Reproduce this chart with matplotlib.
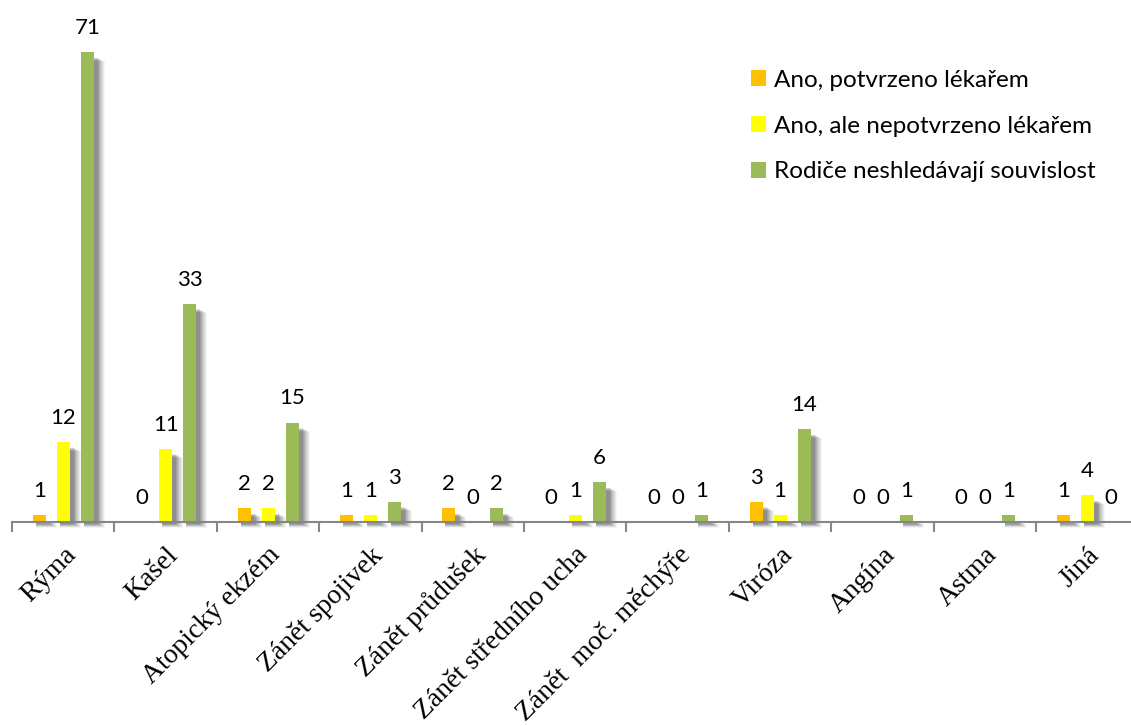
import matplotlib
matplotlib.use("Agg")
import matplotlib.pyplot as plt
import numpy as np
from matplotlib.patches import Rectangle
from matplotlib import transforms

categories = [
    "Rýma", "Kašel", "Atopický ekzém", "Zánět spojivek", "Zánět průdušek",
    "Zánět středního ucha", "Zánět  moč. měchýře", "Viróza", "Angína",
    "Astma", "Jiná",
]
series_names = [
    "Ano, potvrzeno lékařem",
    "Ano, ale nepotvrzeno lékařem",
    "Rodiče neshledávají souvislost",
]
potvrzeno = [1, 0, 2, 1, 2, 0, 0, 3, 0, 0, 1]
nepotvrzeno = [12, 11, 2, 1, 0, 1, 0, 1, 0, 0, 4]
bez_souvislosti = [71, 33, 15, 3, 2, 6, 1, 14, 1, 1, 0]

colors = ["#FFC000", "#FFFF00", "#9BBB59"]

W, H, DPI = 1131, 726, 100
fig = plt.figure(figsize=(W / DPI, H / DPI), dpi=DPI)

# plot area in pixels (right edge runs past the figure border)
left_px, bottom_px, cat_px = 12, 726 - 521.7, 102.4
ymax = 76
unit_px = 6.61
ax = fig.add_axes([left_px / W, bottom_px / H, 11 * cat_px / W, ymax * unit_px / H])
ax.set_xlim(-0.5, 10.5)
ax.set_ylim(0, ymax)

x = np.arange(len(categories))
bar_w = 13 / cat_px
step = 24 / cat_px
all_series = [potvrzeno, nepotvrzeno, bez_souvislosti]

px_x = 1 / cat_px
px_y = 1 / unit_px
shift = transforms.offset_copy(ax.transData, fig=fig, x=3, y=-2, units="dots")
for i, (vals, col, name) in enumerate(zip(all_series, colors, series_names)):
    xs = x + (i - 1) * step
    # soft drop shadow, layered from wide/faint to tight/darker
    for k, a in [(8, 0.04), (7, 0.05), (6, 0.05), (5, 0.06), (4, 0.07), (3, 0.08), (2, 0.09), (1, 0.1)]:
        for xi, v in zip(xs, vals):
            if v == 0:
                continue
            ax.add_patch(Rectangle(
                (xi - bar_w / 2, -k * 0.5 * px_y),
                bar_w + k * px_x, v - 3 * px_y,
                facecolor="black", alpha=a, linewidth=0,
                transform=shift, clip_on=False, zorder=1,
            ))
    ax.bar(xs, vals, width=bar_w, color=col, label=name, zorder=3, linewidth=0)
    for xi, v in zip(xs, vals):
        ax.annotate(str(v), (xi, v), xytext=(0, 13), textcoords="offset points",
                    ha="center", va="baseline", fontsize=16, family="Lato",
                    color="black", clip_on=False, zorder=4)

for s in ["top", "right", "left"]:
    ax.spines[s].set_visible(False)
ax.spines["bottom"].set_color("#868686")
ax.spines["bottom"].set_linewidth(1.5)
ax.spines["bottom"].set_zorder(5)
ax.set_yticks([])

ax.set_xticks(x)
ax.set_xticklabels(categories, rotation=45, ha="right", rotation_mode="anchor",
                   family="Liberation Serif", fontsize=20)
ax.tick_params(axis="x", which="major", length=0, pad=15)
ax.set_xticks(np.arange(-0.5, 11, 1), minor=True)
ax.tick_params(axis="x", which="minor", length=7, width=1.5, color="#868686", direction="out")

leg = ax.legend(loc="upper left", bbox_to_anchor=(741 / W, 1 - 60 / H),
                bbox_transform=fig.transFigure, frameon=False,
                prop={"family": "Lato", "size": 17.5},
                handlelength=0.62, handleheight=0.62, handletextpad=0.35,
                labelspacing=1.02, borderaxespad=0)

fig.savefig("out.png", dpi=DPI)
